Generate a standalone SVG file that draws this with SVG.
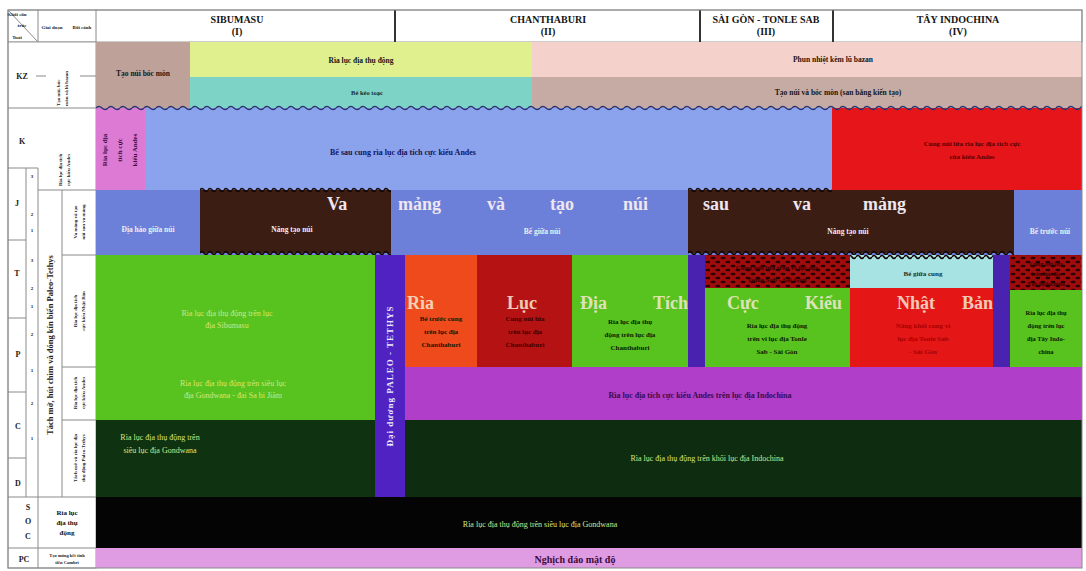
<svg xmlns="http://www.w3.org/2000/svg" width="1086" height="571" viewBox="0 0 1086 571">
<defs>
<style>
text{font-family:"Liberation Serif","DejaVu Serif",serif;font-weight:bold}
.c{text-anchor:middle}
.h{font-size:10px;fill:#151515}
.k{font-size:7.5px;fill:#161616}
.w{font-size:7.5px;fill:#eeeeee}
.big{font-size:18px;fill:#efe6ef}
.mid{font-size:18px;font-weight:normal;fill:#f6e8d2;opacity:.85}
.d{font-size:7px;fill:#0a1a00}
.pl{font-size:8px;fill:#cfe786;font-weight:normal}
.lt{font-size:5px;fill:#222}
.ax{font-size:8px;fill:#222}
.ln{stroke:#8a8a8a;stroke-width:1;fill:none}
</style>
<pattern id="wv" x="0" y="-4" width="12" height="8" patternUnits="userSpaceOnUse"><path d="M0,4 Q3,1 6,4 T12,4" fill="none" stroke="#2b3472" stroke-width="1.4"/></pattern>
<pattern id="wk" x="0" y="-4" width="8" height="8" patternUnits="userSpaceOnUse"><path d="M0,4 Q2,1 4,4 T8,4" fill="none" stroke="#140604" stroke-width="1.6"/></pattern>
<pattern id="mot" width="10" height="8" patternUnits="userSpaceOnUse"><rect width="10" height="8" fill="#a00c0c"/><ellipse cx="3" cy="2" rx="2.6" ry="1.3" fill="#2a0404"/><ellipse cx="8" cy="6" rx="2.6" ry="1.3" fill="#2a0404"/></pattern>
</defs>
<rect width="1086" height="571" fill="#ffffff"/>

<g id="header">
<rect x="8" y="10" width="1074" height="32" fill="#ffffff" stroke="#999" stroke-width="1"/>
<line class="ln" x1="38" y1="10" x2="38" y2="42"/>
<line class="ln" x1="96" y1="10" x2="96" y2="42"/>
<line class="ln" x1="8" y1="10" x2="38" y2="42"/>
<text class="lt c" x="17" y="16">Khối cấu</text>
<text class="lt c" x="22" y="27">trúc</text>
<text class="lt c" x="17" y="39">Tuổi</text>
<text class="lt c" x="52" y="29">Giai đoạn</text>
<text class="lt c" x="82" y="29">Bối cảnh</text>
<line x1="395" y1="10" x2="395" y2="42" stroke="#333" stroke-width="2"/>
<line x1="700" y1="10" x2="700" y2="42" stroke="#333" stroke-width="2"/>
<line x1="833" y1="10" x2="833" y2="42" stroke="#333" stroke-width="2"/>
<text class="h c" x="237" y="23">SIBUMASU</text><text class="h c" x="237" y="35">(I)</text>
<text class="h c" x="548" y="23">CHANTHABURI</text><text class="h c" x="548" y="35">(II)</text>
<text class="h c" x="766" y="23">SÀI GÒN - TONLE SAB</text><text class="h c" x="766" y="35">(III)</text>
<text class="h c" x="958" y="23">TÂY INDOCHINA</text><text class="h c" x="958" y="35">(IV)</text>
</g>

<g id="axis">
<rect x="8" y="42" width="88" height="526" fill="#fff" stroke="#999"/>
<line class="ln" x1="8" y1="108" x2="96" y2="108"/>
<line class="ln" x1="38" y1="168" x2="38" y2="568"/>
<line class="ln" x1="8" y1="168" x2="38" y2="168"/>
<line class="ln" x1="38" y1="190" x2="96" y2="190"/>
<line class="ln" x1="26" y1="168" x2="26" y2="497"/>
<line class="ln" x1="62" y1="190" x2="62" y2="497"/>
<line class="ln" x1="62" y1="255" x2="96" y2="255"/>
<line class="ln" x1="62" y1="367" x2="96" y2="367"/>
<line class="ln" x1="62" y1="420" x2="96" y2="420"/>
<line class="ln" x1="8" y1="240" x2="26" y2="240"/>
<line class="ln" x1="8" y1="318" x2="26" y2="318"/>
<line class="ln" x1="8" y1="392" x2="26" y2="392"/>
<line class="ln" x1="8" y1="458" x2="26" y2="458"/>
<line class="ln" x1="8" y1="497" x2="96" y2="497"/>
<line class="ln" x1="8" y1="548" x2="96" y2="548"/>
<line class="ln" x1="36" y1="76" x2="46" y2="76"/>
<line class="ln" x1="80" y1="76" x2="96" y2="76"/>
<text class="ax c" x="22" y="79">KZ</text>
<text class="ax c" x="22" y="144">K</text>
<text class="ax c" x="17" y="206">J</text>
<text class="ax c" x="17" y="276">T</text>
<text class="ax c" x="18" y="357">P</text>
<text class="ax c" x="18" y="429">C</text>
<text class="ax c" x="18" y="486">D</text>
<text class="ax c" x="28" y="510">S</text>
<text class="ax c" x="28" y="524">O</text>
<text class="ax c" x="28" y="539">C</text>
<text class="ax c" x="24" y="562">PC</text>
<g class="lt">
<text class="lt c" x="32" y="178">3</text><text class="lt c" x="32" y="216">2</text><text class="lt c" x="32" y="232">1</text>
<text class="lt c" x="32" y="262">3</text><text class="lt c" x="32" y="290">2</text><text class="lt c" x="32" y="308">1</text>
<text class="lt c" x="32" y="336">2</text><text class="lt c" x="32" y="372">1</text>
<text class="lt c" x="32" y="405">2</text><text class="lt c" x="32" y="440">1</text>
</g>
<text class="lt" transform="translate(60,106) rotate(-90)">Tạo núi, bóc</text>
<text class="lt" transform="translate(68,106) rotate(-90)">mòn và lũ bazan</text>
<text class="lt" transform="translate(62,186) rotate(-90)">Rìa lục địa tích</text>
<text class="lt" transform="translate(70,186) rotate(-90)">cực kiểu Andes</text>
<text class="c" style="font-size:8.5px;fill:#222" transform="translate(53,345) rotate(-90)">Tách mở, hút chìm và đóng kín biển Paleo-Tethys</text>
<text class="lt c" transform="translate(77,222) rotate(-90)">Va mảng và tạo</text>
<text class="lt c" transform="translate(85,222) rotate(-90)">núi sau va mảng</text>
<text class="lt c" transform="translate(77,311) rotate(-90)">Rìa lục địa tích</text>
<text class="lt c" transform="translate(85,311) rotate(-90)">cực kiểu Nhật Bản</text>
<text class="lt c" transform="translate(77,393) rotate(-90)">Rìa lục địa tích</text>
<text class="lt c" transform="translate(85,393) rotate(-90)">cực kiểu Andes</text>
<text class="lt c" transform="translate(77,458) rotate(-90)">Tách mở và rìa lục địa</text>
<text class="lt c" transform="translate(85,458) rotate(-90)">thụ động Paleo-Tethys</text>
<text class="c" style="font-size:7px;fill:#111" x="67" y="515">Rìa lục</text>
<text class="c" style="font-size:7px;fill:#111" x="67" y="525">địa thụ</text>
<text class="c" style="font-size:7px;fill:#111" x="67" y="535">động</text>
<text class="c" style="font-size:4.5px;fill:#222" x="67" y="557">Tạo móng kết tinh</text>
<text class="c" style="font-size:4.5px;fill:#222" x="67" y="564">tiền Cambri</text>
</g>

<g id="kz-row">
<rect x="96" y="42" width="94" height="66" fill="#bea29a"/>
<text class="c k" x="143" y="76">Tạo núi bóc mòn</text>
<rect x="190" y="42" width="342" height="35" fill="#e0f08e"/>
<text class="c k" x="361" y="63">Rìa lục địa thụ động</text>
<rect x="190" y="77" width="342" height="31" fill="#7ed3c7"/>
<text class="c" style="font-size:6.5px;fill:#163030" x="367" y="95">Bể kéo toạc</text>
<rect x="532" y="42" width="550" height="35" fill="#f4d2cb"/>
<text class="c k" x="833" y="62">Phun nhiệt kèm lũ bazan</text>
<rect x="532" y="77" width="550" height="31" fill="#c5aba3"/>
<text class="c k" x="838" y="95">Tạo núi và bóc mòn (san bằng kiến tạo)</text>
</g>

<g id="k-row">
<rect x="96" y="108" width="49" height="82" fill="#dc7ad4"/>
<text class="c" style="font-size:7px;fill:#3a0a40" transform="translate(107,150) rotate(-90)">Rìa lục địa</text>
<text class="c" style="font-size:7px;fill:#3a0a40" transform="translate(122,150) rotate(-90)">tích cực</text>
<text class="c" style="font-size:7px;fill:#3a0a40" transform="translate(137,150) rotate(-90)">kiểu Andes</text>
<rect x="145" y="108" width="687" height="82" fill="#8ba3ec"/>
<text class="c" style="font-size:8px;fill:#141458" x="403" y="155">Bể sau cung rìa lục địa tích cực kiểu Andes</text>
<rect x="832" y="108" width="250" height="82" fill="#e61519"/>
<text class="c" style="font-size:7px;fill:#5a0000" x="972" y="146">Cung núi lửa rìa lục địa tích cực</text>
<text class="c" style="font-size:7px;fill:#5a0000" x="972" y="159">của kiểu Andes</text>
</g>

<g id="t-row">
<rect x="96" y="190" width="986" height="65" fill="#6c80d9"/>
<text class="c w" x="148" y="232">Địa hào giữa núi</text>
<text class="c w" x="542" y="234">Bể giữa núi</text>
<text class="c w" x="1050" y="234">Bể trước núi</text>
<rect x="200" y="190" width="191" height="63" fill="#3b1d14"/>
<rect x="200" y="-4" width="191" height="8" fill="url(#wk)" transform="translate(0,190)"/>
<rect x="200" y="-4" width="191" height="8" fill="url(#wk)" transform="translate(0,253)"/>
<text class="c w" x="292" y="232">Nâng tạo núi</text>
<rect x="688" y="190" width="326" height="63" fill="#3b1d14"/>
<rect x="688" y="-4" width="144" height="8" fill="url(#wk)" transform="translate(0,190)"/>
<rect x="688" y="-4" width="326" height="8" fill="url(#wk)" transform="translate(0,253)"/>
<text class="c w" x="848" y="234">Nâng tạo núi</text>
<g class="big">
<text x="327" y="210">Va</text>
<text x="398" y="210">mảng</text>
<text x="487" y="210">và</text>
<text x="550" y="210">tạo</text>
<text x="623" y="210">núi</text>
<text x="703" y="210">sau</text>
<text x="793" y="210">va</text>
<text x="863" y="210">mảng</text>
</g>
</g>

<g id="sibumasu-lower">
<rect x="96" y="255" width="279" height="165" fill="#58c21e"/>
<text class="c pl" x="227" y="316">Rìa lục địa thụ động trên lục</text>
<text class="c pl" x="227" y="328">địa Sibumasu</text>
<text class="c pl" x="233" y="386">Rìa lục địa thụ động trên siêu lục</text>
<text class="c pl" x="233" y="398">địa Gondwana - đai Sa bi Jiăm</text>
<rect x="96" y="420" width="279" height="77" fill="#0f3210"/>
<text class="c pl" x="160" y="440">Rìa lục địa thụ động trên</text>
<text class="c pl" x="160" y="453">siêu lục địa Gondwana</text>
</g>

<g id="paleo-tethys">
<rect x="375" y="255" width="30" height="242" fill="#5022c2"/>
<text class="c" style="font-size:9px;fill:#f0eaff;letter-spacing:1px" transform="translate(393,376) rotate(-90)">Đại dương PALEO - TETHYS</text>
</g>

<g id="japan-belt">
<rect x="405" y="255" width="72" height="112" fill="#ef4a1c"/>
<rect x="477" y="255" width="95" height="112" fill="#b51313"/>
<rect x="572" y="255" width="116" height="112" fill="#58c21e"/>
<rect x="688" y="255" width="17" height="112" fill="#4a22b0"/>
<rect x="705" y="255" width="145" height="33" fill="url(#mot)"/>
<rect x="705" y="288" width="145" height="79" fill="#58c21e"/>
<rect x="850" y="255" width="143" height="33" fill="#a8e3e3"/>
<rect x="850" y="-4" width="143" height="8" fill="url(#wk)" transform="translate(0,257)"/>
<rect x="850" y="288" width="143" height="79" fill="#e41616"/>
<rect x="993" y="255" width="17" height="112" fill="#4a22b0"/>
<rect x="1010" y="255" width="72" height="35" fill="url(#mot)"/>
<rect x="1010" y="290" width="72" height="77" fill="#58c21e"/>
<text class="c d" x="441" y="321">Bể trước cung</text>
<text class="c d" x="441" y="334">trên lục địa</text>
<text class="c d" x="441" y="347">Chanthaburi</text>
<text class="c" style="font-size:7px;fill:#3a0000" x="525" y="321">Cung núi lửa</text>
<text class="c" style="font-size:7px;fill:#3a0000" x="525" y="334">trên lục địa</text>
<text class="c" style="font-size:7px;fill:#3a0000" x="525" y="347">Chanthaburi</text>
<text class="c d" x="630" y="324">Rìa lục địa thụ</text>
<text class="c d" x="630" y="337">động trên lục địa</text>
<text class="c d" x="630" y="350">Chanthaburi</text>
<text class="c" style="font-size:7px;fill:#3a0000" x="777" y="270">Cung núi lửa trên vi lục địa</text>
<text class="c" style="font-size:7px;fill:#3a0000" x="777" y="282">Tonle Sab - Sài Gòn</text>
<text class="c" style="font-size:7px;fill:#163030" x="923" y="276">Bể giữa cung</text>
<text class="c d" x="777" y="328">Rìa lục địa thụ động</text>
<text class="c d" x="777" y="341">trên vi lục địa Tonle</text>
<text class="c d" x="777" y="354">Sab - Sài Gòn</text>
<text class="c" style="font-size:7px;fill:#a80000" x="923" y="328">Nâng khối cung vi</text>
<text class="c" style="font-size:7px;fill:#a80000" x="923" y="341">lục địa Tonle Sab</text>
<text class="c" style="font-size:7px;fill:#a80000" x="923" y="354">- Sài Gòn</text>
<text class="c" style="font-size:6px;fill:#3a0000" x="1046" y="266">Cung núi lửa</text>
<text class="c" style="font-size:6px;fill:#3a0000" x="1046" y="276">trên lục địa</text>
<text class="c" style="font-size:6px;fill:#3a0000" x="1046" y="286">Tây Indochina</text>
<text class="c" style="font-size:6.5px;fill:#0a1a00" x="1046" y="315">Rìa lục địa thụ</text>
<text class="c" style="font-size:6.5px;fill:#0a1a00" x="1046" y="328">động trên lục</text>
<text class="c" style="font-size:6.5px;fill:#0a1a00" x="1046" y="341">địa Tây Indo-</text>
<text class="c" style="font-size:6.5px;fill:#0a1a00" x="1046" y="354">china</text>
<g class="mid">
<text x="407" y="309">Rìa</text>
<text x="507" y="309">Lục</text>
<text x="580" y="309">Địa</text>
<text x="653" y="309">Tích</text>
<text x="727" y="309">Cực</text>
<text x="805" y="309">Kiểu</text>
<text x="897" y="309">Nhật</text>
<text x="962" y="309">Bản</text>
</g>
</g>

<g id="indochina-lower">
<rect x="405" y="367" width="677" height="53" fill="#b03ec8"/>
<text class="c" style="font-size:8px;fill:#3a0a50" x="700" y="398">Rìa lục địa tích cực kiểu Andes trên lục địa Indochina</text>
<rect x="405" y="420" width="677" height="77" fill="#0d2c10"/>
<text class="c pl" x="707" y="461">Rìa lục địa thụ động trên khối lục địa Indochina</text>
</g>

<g id="gondwana">
<rect x="96" y="497" width="986" height="51" fill="#040404"/>
<text class="c pl" x="540" y="527">Rìa lục địa thụ động trên siêu lục địa Gondwana</text>
</g>

<g id="precambrian">
<rect x="96" y="548" width="986" height="20" fill="#e09ce2"/>
<text class="c" style="font-size:10px;fill:#3a0a40" x="575" y="563">Nghịch đảo mật độ</text>
</g>

<g id="connectors">
<rect x="96" y="-4" width="986" height="8" fill="url(#wv)" transform="translate(0,108)"/>
<rect x="8" y="10" width="1074" height="558" fill="none" stroke="#888" stroke-width="1"/>
</g>
</svg>
